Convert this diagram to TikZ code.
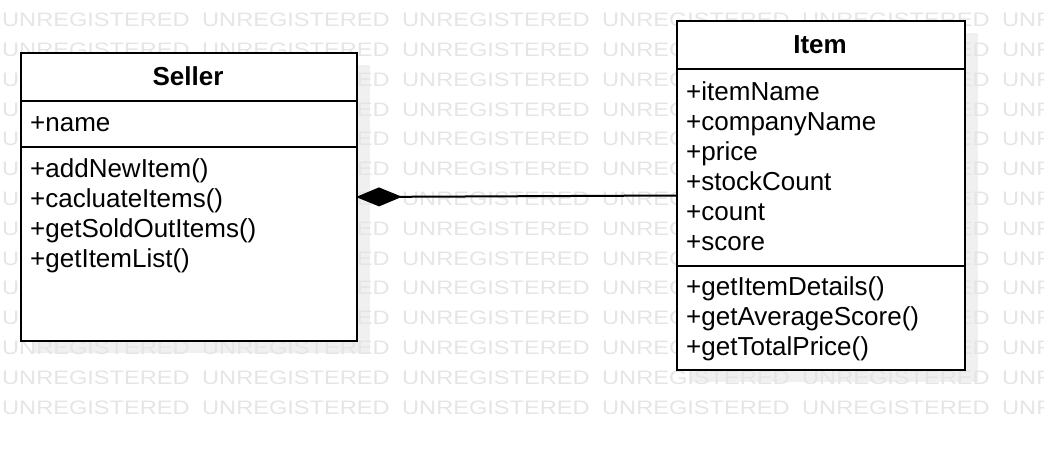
\documentclass[tikz,border=0pt]{standalone}
\usepackage{fontspec}
\setmainfont{Liberation Sans}
\usetikzlibrary{arrows.meta}
\begin{document}
\begin{tikzpicture}[
x=1pt,
y=-1pt,
classbox/.style={rectangle, draw=black, fill=white, line width=2pt, inner sep=0pt, anchor=north west},
boxshadow/.style={rectangle, fill=black!6, inner sep=0pt, anchor=north west},
member/.style={anchor=base west, inner sep=0pt, font=\fontsize{26}{30}\selectfont},
classname/.style={anchor=base, inner sep=0pt, font=\fontsize{26}{30}\selectfont\bfseries},
watermark/.style={anchor=west, inner sep=0pt, text=black!10, font=\fontsize{19.5}{20}\selectfont},
]
\useasboundingbox (0,0) rectangle (1044,450);
\node[boxshadow, minimum width=336pt, minimum height=288pt] (sellershadow) at (34,65) {};
\node[boxshadow, minimum width=288pt, minimum height=349pt] (itemshadow) at (690,33) {};
\foreach \r in {0,...,13}
{
 \foreach \c in {0,...,5}
 {
  \node[watermark] (wm-\r-\c) at (2+\c*200,20+\r*29.8) {\scalebox{1.21}[1]{UNREGISTERED}};
 }
}
\node[classbox, minimum width=336pt, minimum height=288pt] (seller) at (20,52) {};
\node[classbox, minimum width=288pt, minimum height=349pt] (item) at (676,20) {};
\draw[line width=2pt] (20,101) -- (356,101);
\draw[line width=2pt] (20,147) -- (356,147);
\draw[line width=2pt] (676,69) -- (964,69);
\draw[line width=2pt] (676,266) -- (964,266);
\node[classname] (sellername) at (188,85) {Seller};
\node[classname] (itemname) at (820,53) {Item};
\node[member] (sellerattr) at (30,131) {+name};
\foreach \m [count=\i from 0] in {+addNewItem(),+cacluateItems(),+getSoldOutItems(),+getItemList()}
{
 \node[member] (sellerop-\i) at (30,177+\i*30) {\m};
}
\foreach \a [count=\i from 0] in {+itemName,+companyName,+price,+stockCount,+count,+score}
{
 \node[member] (itemattr-\i) at (686,100+\i*30) {\a};
}
\foreach \m [count=\i from 0] in {+getItemDetails(),+getAverageScore(),+getTotalPrice()}
{
 \node[member] (itemop-\i) at (686,295+\i*30) {\m};
}
\draw[line width=2pt, {Diamond[length=46pt,width=19pt]}-, shorten <=-2pt] (seller.east) -- (item.west);
\end{tikzpicture}
\end{document}
